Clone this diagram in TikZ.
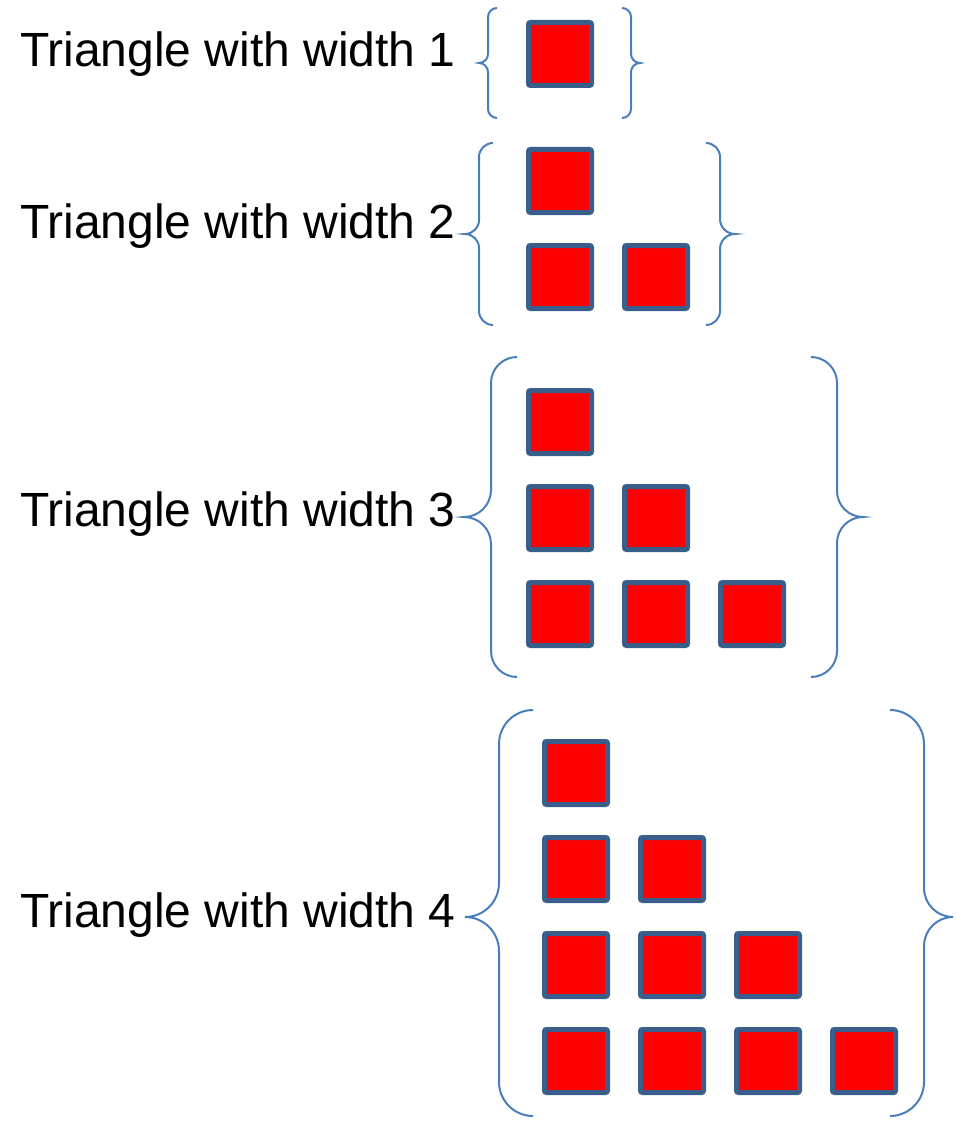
\documentclass[tikz,border=0pt]{standalone}
\usepackage{fontspec}
\setmainfont{Liberation Sans}
\definecolor{braceblue}{RGB}{74,126,187}
\definecolor{sqborder}{RGB}{58,94,138}
\definecolor{sqfill}{RGB}{255,0,0}
\newcommand{\mybrace}[6]{%
  \pgfmathsetmacro\ra{#1-#2}%
  \pgfmathsetmacro\rb{#2-#3}%
  \pgfmathsetmacro\va{abs(\ra)}%
  \pgfmathsetmacro\vb{abs(\rb)}%
  \draw[bracestyle] (#1,#4) .. controls ({#1-0.5523*\ra},#4) and (#2,{#4+0.4477*\va}) .. (#2,{#4+\va})
    -- (#2,{#5-\vb}) .. controls (#2,{#5-0.4477*\vb}) and ({#3+0.5523*\rb},#5) .. (#3,#5)
    .. controls ({#3+0.5523*\rb},#5) and (#2,{#5+0.4477*\vb}) .. (#2,{#5+\vb})
    -- (#2,{#6-\va}) .. controls (#2,{#6-0.4477*\va}) and ({#1-0.5523*\ra},#6) .. (#1,#6);%
}
\tikzset{
  bracestyle/.style={draw=braceblue, line width=2pt},
  sq/.style={draw=sqborder, fill=sqfill, line width=5pt, minimum size=63pt, inner sep=0pt, outer sep=0pt, rounded corners=2pt},
  lbl/.style={anchor=base west, inner sep=0pt, outer sep=0pt, font=\fontsize{48}{58}\selectfont, text=black}
}
\begin{document}
\begin{tikzpicture}[x=1pt, y=-1pt]
\useasboundingbox (0,0) rectangle (955,1126);
% labels
\node[lbl] (t1) at (20,67) {Triangle with width 1};
\node[lbl] (t2) at (20,238) {Triangle with width 2};
\node[lbl] (t3) at (20,526) {Triangle with width 3};
\node[lbl] (t4) at (20,927) {Triangle with width 4};
% group 1
\node[sq] (a11) at (560,54) {};
% group 2
\node[sq] (b11) at (560,181) {};
\node[sq] (b21) at (560,277) {};
\node[sq] (b22) at (656,277) {};
% group 3
\node[sq] (c11) at (560,422) {};
\node[sq] (c21) at (560,518) {};
\node[sq] (c22) at (656,518) {};
\node[sq] (c31) at (560,614) {};
\node[sq] (c32) at (656,614) {};
\node[sq] (c33) at (752,614) {};
% group 4
\node[sq] (d11) at (576,773) {};
\node[sq] (d21) at (576,869) {};
\node[sq] (d22) at (672,869) {};
\node[sq] (d31) at (576,965) {};
\node[sq] (d32) at (672,965) {};
\node[sq] (d33) at (768,965) {};
\node[sq] (d41) at (576,1061) {};
\node[sq] (d42) at (672,1061) {};
\node[sq] (d43) at (768,1061) {};
\node[sq] (d44) at (864,1061) {};
% braces: end x, line x, tip x, top y, tip y, bottom y
\mybrace{497}{488}{479}{8}{63}{118}
\mybrace{622}{631}{640}{8}{63}{118}
\mybrace{493}{479}{465}{143}{234}{325}
\mybrace{706}{720}{735}{143}{234}{325}
\mybrace{517}{491}{464}{357}{517}{677}
\mybrace{811}{837}{863}{357}{517}{677}
\mybrace{533}{499}{465}{710}{917}{1116}
\mybrace{890}{924}{953}{710}{917}{1116}
\end{tikzpicture}
\end{document}
